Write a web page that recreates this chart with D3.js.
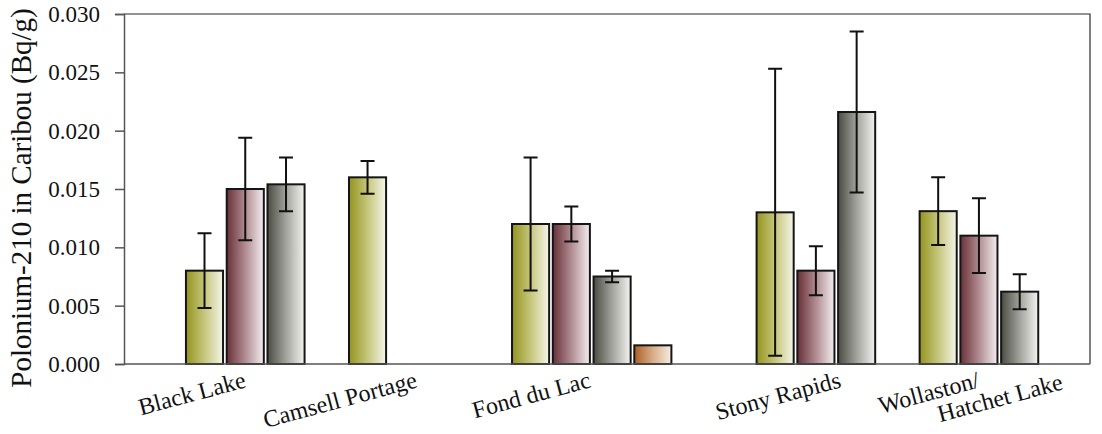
<!DOCTYPE html>
<html>
<head>
<meta charset="utf-8">
<script src="https://cdn.jsdelivr.net/npm/d3@7"></script>
<style>
  html, body { margin: 0; padding: 0; background: #ffffff; }
  svg { display: block; }
</style>
</head>
<body>
<svg id="chart" width="1102" height="434"></svg>
<script>
// Sampling communities (x axis)
const categories = ["Black Lake", "Camsell Portage", "Fond du Lac", "Stony Rapids", "Wollaston/\nHatchet Lake"];

// Mean Po-210 concentration per sample group (Bq/g); null = not sampled
const seriesA = [0.0080, 0.0160, 0.0120, 0.0130, 0.0131];
const seriesB = [0.0150, null, 0.0120, 0.0080, 0.0110];
const seriesC = [0.0154, null, 0.0075, 0.0216, 0.0062];
const seriesD = [null, null, 0.0016, null, null];

// Error bar half-widths (Bq/g)
const errorA = [0.0032, 0.0014, 0.0057, 0.0123, 0.0029];
const errorB = [0.0044, null, 0.0015, 0.0021, 0.0032];
const errorC = [0.0023, null, 0.0005, 0.0069, 0.0015];
const errorD = [null, null, null, null, null];

// Y axis tick values
const yTicks = [0.000, 0.005, 0.010, 0.015, 0.020, 0.025, 0.030];
const yTitle = "Polonium-210 in Caribou (Bq/g)";

const seriesValues = [seriesA, seriesB, seriesC, seriesD];
const seriesErrors = [errorA, errorB, errorC, errorD];

const SERIF = '"Liberation Serif", Tinos, "Times New Roman", Times, "DejaVu Serif", serif';

// Horizontal gradient fills: dark on the left, fading to near white
const gradients = [
  ["#949420", "#c6c67c", "#f5f5ea"],
  ["#683038", "#b08c91", "#f4eef0"],
  ["#4a4c43", "#a2a39c", "#f3f3f1"],
  ["#ab6024", "#d8ad88", "#f7ece2"]
];

const svg = d3.select("#chart");
const plot = { left: 124, right: 1090, top: 14, bottom: 364 };

// Each community gets four bar slots; a wider gap separates the last two communities
const slotsPerGroup = 4;
const groupStart = categories.map((c, i) => i * slotsPerGroup + (i >= 3 ? 2 : 0));
// Where each slanted label ends, in slots from the start of its group
const labelSlot = [1.5, 1.7, 1.96, 2.1, 1.5];

const x = d3.scaleLinear().domain([-1.52, 22.18]).range([plot.left, plot.right]);
const y = d3.scaleLinear().domain([0, 0.030]).range([plot.bottom, plot.top]);
const barWidth = x(0.91) - x(0);

const defs = svg.append("defs");
gradients.forEach((stops, i) => {
  const g = defs.append("linearGradient")
    .attr("id", "grad" + i)
    .attr("x1", "0").attr("x2", "1").attr("y1", "0").attr("y2", "0");
  stops.forEach((c, k) => {
    g.append("stop").attr("offset", k / (stops.length - 1)).attr("stop-color", c);
  });
});

// Frame: top and right border
svg.append("path")
  .attr("d", `M${plot.left},${plot.top}H${plot.right}V${plot.bottom}`)
  .attr("fill", "none").attr("stroke", "#2a2a2a").attr("stroke-width", 1.2);

// Flatten into bar records
const bars = [];
categories.forEach((cat, ci) => {
  seriesValues.forEach((vals, si) => {
    const v = vals[ci];
    if (v == null) return;
    bars.push({ ci, si, value: v, err: seriesErrors[si][ci], slot: groupStart[ci] + si });
  });
});

svg.append("g").selectAll("rect")
  .data(bars).join("rect")
  .attr("x", d => x(d.slot))
  .attr("y", d => y(d.value))
  .attr("width", barWidth)
  .attr("height", d => y(0) - y(d.value))
  .attr("fill", d => `url(#grad${d.si})`)
  .attr("stroke", "#151515")
  .attr("stroke-width", 2);

// Error bars
const capHalf = 7;
const eb = svg.append("g").attr("stroke", "#111").attr("stroke-width", 2).attr("fill", "none");
eb.selectAll("path")
  .data(bars.filter(d => d.err != null)).join("path")
  .attr("d", d => {
    const cx = x(d.slot) + barWidth / 2;
    const y1 = y(d.value + d.err), y2 = y(d.value - d.err);
    return `M${cx - capHalf},${y1}H${cx + capHalf}M${cx},${y1}V${y2}M${cx - capHalf},${y2}H${cx + capHalf}`;
  });

// Y axis
const yAxis = svg.append("g")
  .attr("transform", `translate(${plot.left},0)`)
  .call(d3.axisLeft(y).tickValues(yTicks).tickFormat(d3.format(".3f")).tickSize(9).tickPadding(15));
yAxis.attr("font-family", SERIF).attr("font-size", 23);
yAxis.select(".domain").attr("stroke", "#555").attr("stroke-width", 1.5);
yAxis.selectAll(".tick line").attr("stroke", "#555").attr("stroke-width", 1.5);
yAxis.selectAll(".tick text").attr("fill", "#111");

// Baseline
svg.append("line")
  .attr("x1", plot.left).attr("x2", plot.right)
  .attr("y1", y(0)).attr("y2", y(0))
  .attr("stroke", "#555").attr("stroke-width", 1.5);

// Category labels, slanted
const labels = svg.append("g").attr("font-family", SERIF).attr("font-size", 24).attr("fill", "#111");
categories.forEach((cat, ci) => {
  const lines = cat.split("\n");
  const ax = x(groupStart[ci] + labelSlot[ci]);
  const t = labels.append("text")
    .attr("transform", `translate(${ax},387) rotate(-15)`)
    .attr("text-anchor", "end");
  lines.forEach((ln, k) => {
    t.append("tspan")
      .attr("x", k === 0 ? 0 : 80)
      .attr("dy", k === 0 ? 0 : 23.5)
      .text(ln);
  });
});

// Y axis title
svg.append("text")
  .attr("transform", `translate(31,198) rotate(-90)`)
  .attr("text-anchor", "middle")
  .attr("font-family", SERIF)
  .attr("font-size", 29)
  .attr("fill", "#111")
  .text(yTitle);
</script>
</body>
</html>
